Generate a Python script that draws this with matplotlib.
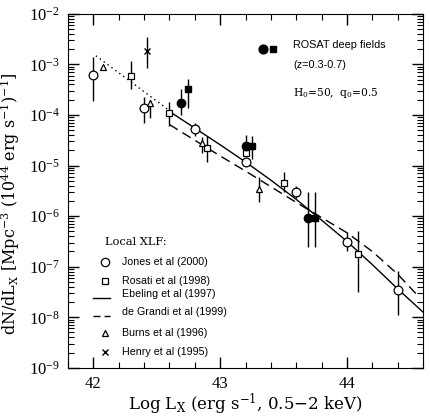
import matplotlib
matplotlib.use("Agg")
from matplotlib import pyplot as plt
import numpy as np

plt.rcParams['mathtext.fontset'] = 'dejavuserif'

# Jones et al (2000) - open circles
jones_x = [42.0, 42.4, 42.8, 43.2, 43.6, 44.0, 44.4]
jones_y = [6.3e-4, 1.35e-4, 5.2e-5, 1.2e-5, 3.0e-6, 3.1e-7, 3.5e-8]
jones_lo = [1.9e-4, 7.0e-5, 3.8e-5, 1.0e-5, 2.3e-6, 2.0e-7, 1.1e-8]
jones_hi = [1.4e-3, 2.3e-4, 6.8e-5, 1.4e-5, 3.9e-6, 4.9e-7, 8.3e-8]

# Rosati et al (1998) - open squares
rosati_x = [42.3, 42.6, 42.9, 43.2, 43.5, 44.09]
rosati_y = [6.0e-4, 1.07e-4, 2.2e-5, 1.8e-5, 4.5e-6, 1.8e-7]
rosati_lo = [3.2e-4, 6.0e-5, 1.2e-5, 1.8e-5, 3.0e-6, 3.2e-8]
rosati_hi = [1.15e-3, 1.8e-4, 3.8e-5, 1.8e-5, 7.4e-6, 5.1e-7]

# Burns et al (1996) - triangles
burns_x = [42.08, 42.45, 42.86, 43.31]
burns_y = [8.7e-4, 1.7e-4, 2.75e-5, 3.5e-6]
burns_lo = [8.7e-4, 8.9e-5, 1.8e-5, 1.9e-6]
burns_hi = [8.7e-4, 2.0e-4, 3.6e-5, 5.9e-6]

# Henry et al (1995) - cross
henry_x = [42.42]
henry_y = [1.87e-3]
henry_lo = [8.3e-4]
henry_hi = [3.5e-3]

# ROSAT deep fields (z=0.3-0.7)
rdc_x = [42.69, 43.20, 43.69]
rdc_y = [1.7e-4, 2.4e-5, 9.2e-7]
rdc_lo = [1.0e-4, 1.65e-5, 2.5e-7]
rdc_hi = [3.3e-4, 4.0e-5, 3.0e-6]
rds_x = [42.75, 43.25, 43.75]
rds_y = [3.2e-4, 2.4e-5, 9.2e-7]
rds_lo = [1.4e-4, 1.35e-5, 2.5e-7]
rds_hi = [5.2e-4, 3.8e-5, 3.0e-6]

# model curves (log values)
ebeling_x = [42.6, 42.8, 43.0, 43.2, 43.4, 43.6, 43.8, 44.0, 44.2, 44.4, 44.6]
ebeling_logy = [-3.93, -4.26, -4.59, -4.93, -5.29, -5.67, -6.08, -6.50, -6.96, -7.44, -7.90]
degrandi_x = [42.6, 42.8, 43.0, 43.2, 43.4, 43.6, 43.8, 44.0, 44.2, 44.4, 44.55]
degrandi_logy = [-4.19, -4.50, -4.81, -5.11, -5.42, -5.73, -6.03, -6.33, -6.70, -7.15, -7.55]
extrap_x = [42.02, 42.62]
extrap_logy = [-2.83, -3.95]


def errs(y, lo, hi):
    y = np.array(y)
    return [y - np.array(lo), np.array(hi) - y]


fig = plt.figure(figsize=(4.30, 4.18), dpi=100)
ax = fig.add_axes([0.158, 0.12, 0.826, 0.847])

ax.plot(ebeling_x, 10 ** np.array(ebeling_logy), color='black', lw=1.0)
ax.plot(degrandi_x, 10 ** np.array(degrandi_logy), color='black', lw=1.0,
        linestyle=(0, (7, 4)))
ax.plot(extrap_x, 10 ** np.array(extrap_logy), color='black', lw=1.0,
        linestyle=(0, (1, 2.5)))

eb = dict(fmt='none', ecolor='black', elinewidth=1.0, capsize=0)
ax.errorbar(jones_x, jones_y, yerr=errs(jones_y, jones_lo, jones_hi), **eb)
ax.errorbar(rosati_x, rosati_y, yerr=errs(rosati_y, rosati_lo, rosati_hi), **eb)
ax.errorbar(burns_x, burns_y, yerr=errs(burns_y, burns_lo, burns_hi), **eb)
ax.errorbar(henry_x, henry_y, yerr=errs(henry_y, henry_lo, henry_hi), **eb)
ax.errorbar(rdc_x, rdc_y, yerr=errs(rdc_y, rdc_lo, rdc_hi), **eb)
ax.errorbar(rds_x, rds_y, yerr=errs(rds_y, rds_lo, rds_hi), **eb)

ax.plot(jones_x, jones_y, 'o', ms=6.3, mfc='white', mec='black', mew=0.9)
ax.plot(rosati_x, rosati_y, 's', ms=4.8, mfc='white', mec='black', mew=0.9)
ax.plot(burns_x, burns_y, '^', ms=4.8, mfc='white', mec='black', mew=0.9)
ax.plot(henry_x, henry_y, 'x', ms=4.5, color='black', mew=1.0)
ax.plot(rdc_x, rdc_y, 'o', ms=6, color='black')
ax.plot(rds_x, rds_y, 's', ms=4.3, color='black')

ax.set_yscale('log')
ax.set_xlim(41.8, 44.6)
ax.set_ylim(1e-9, 1e-2)
ax.set_xticks([42, 43, 44])
ax.set_xticks(np.arange(41.8, 44.61, 0.2), minor=True)
ax.tick_params(which='both', direction='in', top=True, right=True,
               labelsize=12, pad=6)
ax.tick_params(which='major', length=8, width=1)
ax.tick_params(which='minor', length=4, width=0.8)
for lab in ax.get_xticklabels() + ax.get_yticklabels():
    lab.set_family('Liberation Serif')

ax.set_xlabel(r'Log L$_\mathregular{X}$ (erg s$^{-1}$, 0.5$-$2 keV)',
              family='DejaVu Serif', fontsize=12)
ax.set_ylabel(r'dN/dL$_\mathregular{X}$ [Mpc$^{-3}$ (10$^{44}$ erg s$^{-1}$)$^{-1}$]',
              family='DejaVu Serif', fontsize=11.5)
ax.xaxis.set_label_coords(0.5, -0.068)
ax.yaxis.set_label_coords(-0.128, 0.463)

# ROSAT annotation
tr = ax.transAxes
ax.plot([0.549], [0.901], 'o', ms=6.3, color='black', transform=tr)
ax.plot([0.577], [0.901], 's', ms=4.5, color='black', transform=tr)
ax.text(0.634, 0.912, 'ROSAT deep fields', transform=tr, family='Liberation Sans',
        fontsize=7.8, va='center')
ax.text(0.634, 0.856, '(z=0.3-0.7)', transform=tr, family='Liberation Sans',
        fontsize=7.8, va='center')
ax.text(0.634, 0.777, r'H$_\mathregular{0}$=50,  q$_\mathregular{0}$=0.5', transform=tr,
        family='DejaVu Serif', fontsize=7.7, va='center')

# local XLF legend
ax.text(0.104, 0.356, 'Local XLF:', transform=tr, family='DejaVu Serif',
        fontsize=8.2, va='center')
ax.plot([0.104], [0.299], 'o', ms=6, mfc='white', mec='black', mew=0.9, transform=tr)
ax.plot([0.104], [0.246], 's', ms=4.5, mfc='white', mec='black', mew=0.9, transform=tr)
ax.plot([0.07, 0.118], [0.198, 0.198], color='black', lw=1.0, transform=tr)
ax.plot([0.07, 0.118], [0.147, 0.147], color='black', lw=1.0,
        linestyle=(0, (5, 3)), transform=tr)
ax.plot([0.104], [0.099], '^', ms=5, mfc='white', mec='black', mew=0.9, transform=tr)
ax.plot([0.104], [0.045], 'x', ms=4.5, color='black', mew=1.0, transform=tr)
labels = ['Jones et al (2000)', 'Rosati et al (1998)', 'Ebeling et al (1997)',
          'de Grandi et al (1999)', 'Burns et al (1996)', 'Henry et al (1995)']
rows = [0.299, 0.246, 0.209, 0.158, 0.099, 0.045]
for lab, yy in zip(labels, rows):
    ax.text(0.152, yy, lab, transform=tr, family='Liberation Sans',
            fontsize=7.7, va='center')

fig.savefig('out.png', dpi=100)
